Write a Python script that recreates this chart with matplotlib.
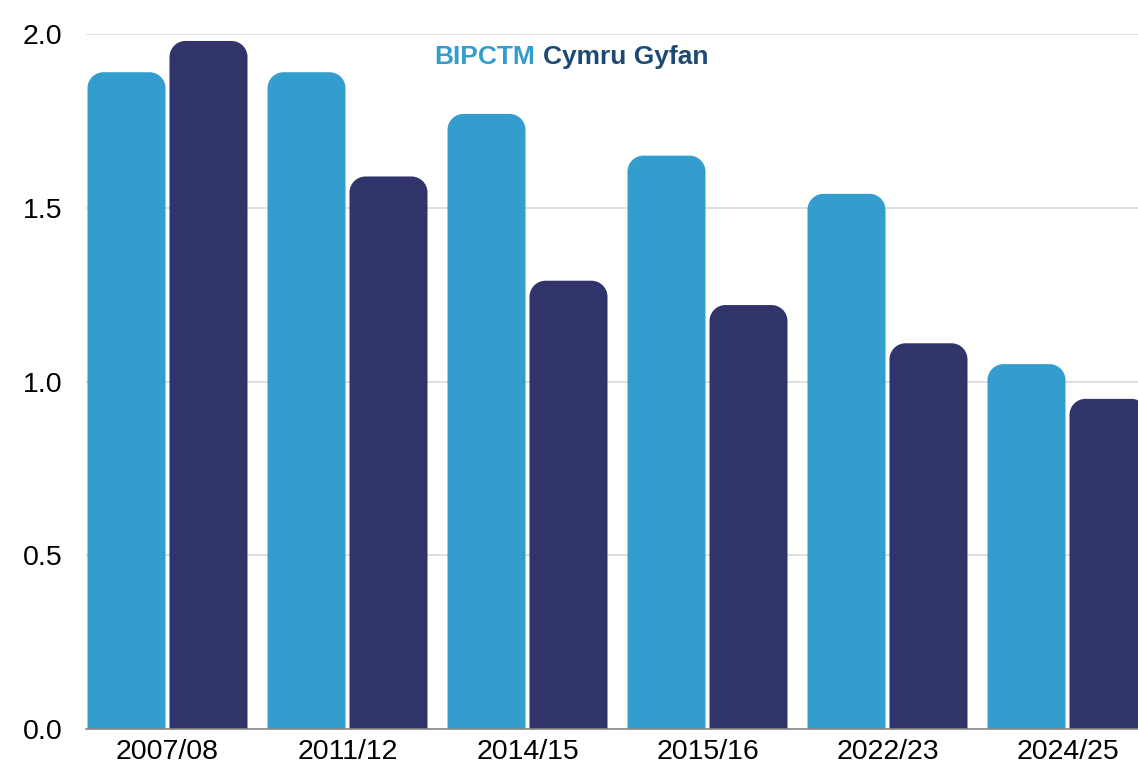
import matplotlib
matplotlib.use("Agg")
import matplotlib.pyplot as plt
from matplotlib.path import Path
from matplotlib.patches import PathPatch

plt.rcParams['font.family'] = ['Liberation Sans', 'DejaVu Sans']

categories = ["2007/08", "2011/12", "2014/15", "2015/16", "2022/23", "2024/25"]
series_names = ["BIPCTM", "Cymru Gyfan"]
bipctm = [1.89, 1.89, 1.77, 1.65, 1.54, 1.05]
cymru = [1.98, 1.59, 1.29, 1.22, 1.11, 0.95]
yticks = [0.0, 0.5, 1.0, 1.5, 2.0]
ytick_labels = ["0.0", "0.5", "1.0", "1.5", "2.0"]

light = "#339dcd"
dark = "#31346b"
legend_dark = "#1d4a72"

W, H = 1138, 773
fig = plt.figure(figsize=(W / 100, H / 100), dpi=100)
left_px, right_px, top_px, bottom_px = 86, 1138, 34, 729
ax = fig.add_axes([left_px / W, (H - bottom_px) / H, (right_px - left_px) / W, (bottom_px - top_px) / H])

group_px = 180.0
xmin = -(167.5 - left_px) / group_px
xmax = xmin + (right_px - left_px) / group_px
ax.set_xlim(xmin, xmax)
ax.set_ylim(0, 2.0)

bar_w = 78 / group_px
gap = 4 / group_px
r_px = 16
px_x = group_px
px_y = (bottom_px - top_px) / 2.0
rx = r_px / px_x
ry = r_px / px_y
k = 0.5523


def rounded_bar(ax, x0, w, h, color):
    x1 = x0 + w
    rr_y = min(ry, h)
    verts = [
        (x0, 0), (x0, h - rr_y),
        (x0, h - rr_y + k * rr_y), (x0 + rx - k * rx, h), (x0 + rx, h),
        (x1 - rx, h),
        (x1 - rx + k * rx, h), (x1, h - rr_y + k * rr_y), (x1, h - rr_y),
        (x1, 0), (x0, 0),
    ]
    codes = [Path.MOVETO, Path.LINETO,
             Path.CURVE4, Path.CURVE4, Path.CURVE4,
             Path.LINETO,
             Path.CURVE4, Path.CURVE4, Path.CURVE4,
             Path.LINETO, Path.CLOSEPOLY]
    patch = PathPatch(Path(verts, codes), facecolor=color, edgecolor="none", zorder=3)
    ax.add_patch(patch)


for i, (a, b) in enumerate(zip(bipctm, cymru)):
    rounded_bar(ax, i - gap / 2 - bar_w, bar_w, a, light)
    rounded_bar(ax, i + gap / 2, bar_w, b, dark)

ax.set_yticks(yticks)
ax.set_yticklabels(ytick_labels)
ax.set_xticks(range(len(categories)))
ax.set_xticklabels(categories)
ax.tick_params(axis="both", length=0, labelsize=20.5, colors="#000000")
ax.tick_params(axis="y", pad=17)
ax.tick_params(axis="x", pad=7)
ax.grid(axis="y", color="#d9d9d9", linewidth=1.2, zorder=0)
ax.set_axisbelow(True)
for s in ["top", "right", "left"]:
    ax.spines[s].set_visible(False)
ax.spines["bottom"].set_color("#888888")
ax.spines["bottom"].set_linewidth(1.2)
ax.spines["bottom"].set_zorder(4)

fig.text(535 / W, 1 - 57 / H, series_names[0], color=light, fontsize=19, fontweight="bold",
         ha="right", va="center")
fig.text(543 / W, 1 - 57 / H, series_names[1], color=legend_dark, fontsize=19, fontweight="bold",
         ha="left", va="center")

fig.savefig("out.png", dpi=100)
